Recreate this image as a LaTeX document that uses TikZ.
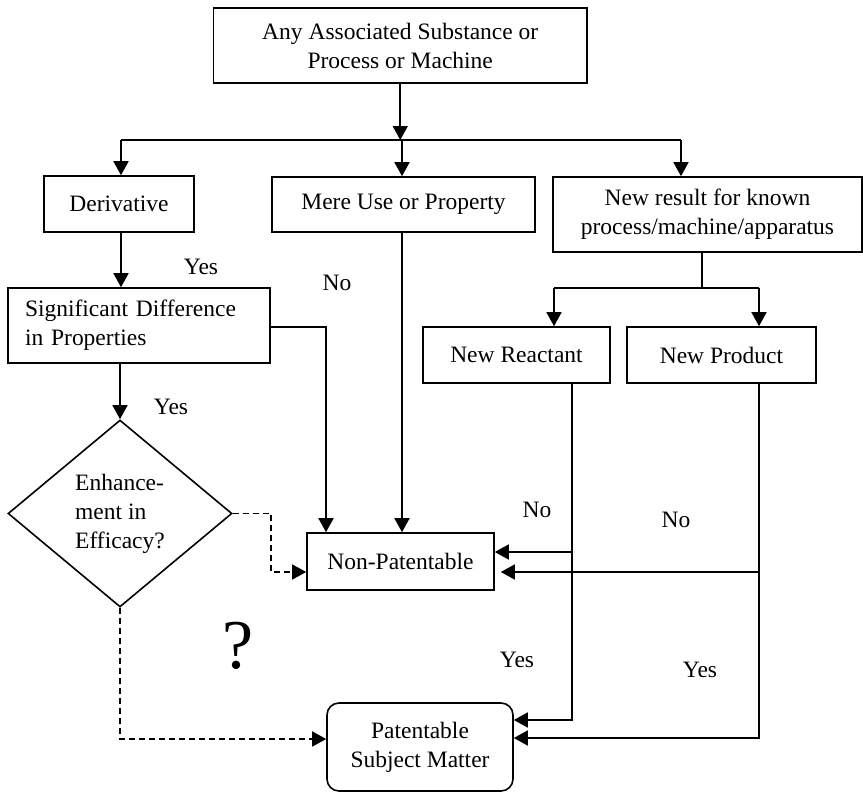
\documentclass[tikz,border=0pt]{standalone}
\usepackage{fontspec}
\setmainfont{Liberation Serif}
\usetikzlibrary{arrows.meta,shapes.geometric}
\begin{document}
\begin{tikzpicture}[x=1pt,y=-1pt,
  every node/.style={font=\fontsize{23.5}{29}\selectfont},
  box/.style={draw,line width=1.6pt,inner sep=0pt,align=center},
  lbl/.style={inner sep=0pt},
  conn/.style={line width=1.6pt},
  arr/.style={conn,-{Triangle[length=14pt,width=15pt]}},
  dsharr/.style={conn,dash pattern=on 6pt off 4pt,-{Triangle[length=14pt,width=15pt]}}]
\useasboundingbox (0,0) rectangle (863,793);
% boxes
\node[box,minimum width=373.5pt,minimum height=75pt] (top) at (400.25,45.5) {Any Associated Substance or\\Process or Machine};
\node[box,minimum width=150pt,minimum height=56pt] (deriv) at (119,204) {Derivative};
\node[box,minimum width=263pt,minimum height=55pt] (mere) at (403.5,204.5) {Mere Use or Property};
\node[box,minimum width=309pt,minimum height=75pt] (newres) at (707.5,214.5) {New result for known\\process/machine/apparatus};
\node[box,minimum width=262pt,minimum height=75pt,align=left,text width=228pt,inner xsep=17pt] (sig) at (139,325.5) {Significant Difference\\in Properties};
\node[box,minimum width=187pt,minimum height=56pt] (react) at (516.5,355) {New Reactant};
\node[box,minimum width=189pt,minimum height=56pt] (prod) at (721.5,355) {New Product};
\node[draw,diamond,line width=1.6pt,minimum width=224pt,minimum height=187pt,inner sep=0pt,align=left] (dia) at (120,513.5) {Enhance-\\ment in\\Efficacy?};
\node[box,minimum width=187pt,minimum height=57pt] (nonpat) at (400.5,561.5) {Non-Patentable};
\node[box,rounded corners=12pt,minimum width=186pt,minimum height=88pt] (pat) at (420,747) {Patentable\\Subject Matter};
% coordinates
\coordinate (hc) at (400.25,140);
\coordinate (hl) at (121,140);
\coordinate (hm) at (402,140);
\coordinate (hr) at (681,140);
\coordinate (sn) at (326,327);
\coordinate (nb) at (702,288);
\coordinate (nl) at (554,288);
\coordinate (nr) at (759,288);
\coordinate (rb) at (572,720);
\coordinate (pb) at (759,738);
\coordinate (r1) at (572,552);
\coordinate (p1) at (759,572);
\coordinate (dx) at (271,572);
\coordinate (dy) at (120,739);
% connectors
\draw[arr] (top.south) -- (hc);
\draw[conn] (hl) -- (hr);
\draw[arr] (hl) -- (hl |- deriv.north);
\draw[arr] (hm) -- (hm |- mere.north);
\draw[arr] (hr) -- (hr |- newres.north);
\draw[arr] (hl |- deriv.south) -- (hl |- sig.north);
\draw[arr] (dia.north |- sig.south) -- (dia.north);
\draw[arr] (sig.east |- sn) -- (sn) -- (sn |- nonpat.north);
\draw[arr] (hm |- mere.south) -- (hm |- nonpat.north);
\draw[conn] (nb |- newres.south) -- (nb);
\draw[conn] (nl) -- (nr);
\draw[arr] (nl) -- (nl |- react.north);
\draw[arr] (nr) -- (nr |- prod.north);
\draw[arr] (rb |- react.south) -- (rb) -- (rb -| pat.east);
\draw[arr] (pb |- prod.south) -- (pb) -- (pb -| pat.east);
\draw[arr] (r1) -- (r1 -| nonpat.east);
\draw[arr,shorten >=6pt] (p1) -- (p1 -| nonpat.east);
\draw[dsharr] (dia.east) -- (dia.east -| dx) -- (dx) -- (dx -| nonpat.west);
\draw[dsharr] (dia.south) -- (dy) -- (dy -| pat.west);
% labels
\node[lbl] (y1) at (201,267) {Yes};
\node[lbl] (n1) at (337,283) {No};
\node[lbl] (y2) at (171,407) {Yes};
\node[lbl] (n2) at (537,510) {No};
\node[lbl] (n3) at (676,520) {No};
\node[lbl] (y3) at (517,660) {Yes};
\node[lbl] (y4) at (700,670) {Yes};
\node[lbl,font=\fontsize{70}{70}\selectfont,anchor=base] (q) at (238,668) {?};
\end{tikzpicture}
\end{document}
